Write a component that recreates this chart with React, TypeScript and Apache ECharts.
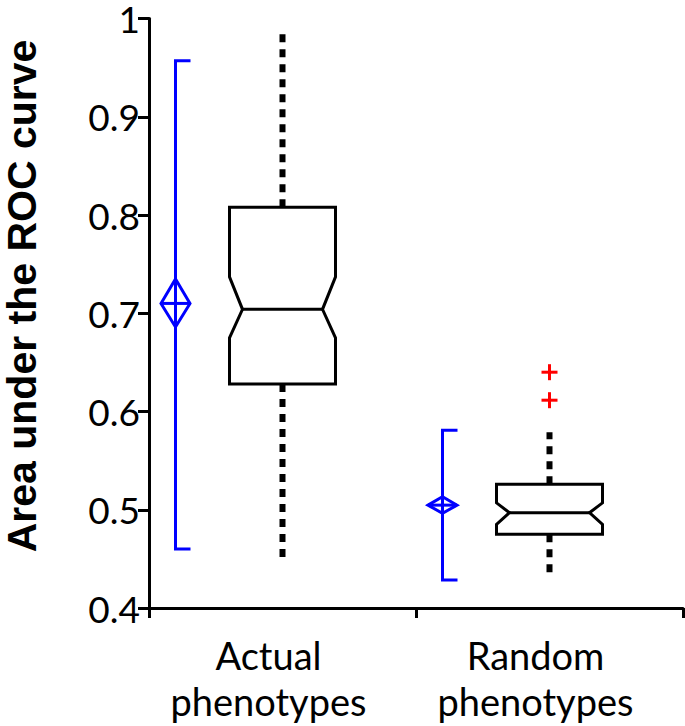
import React, { useEffect, useRef } from 'react';
import * as echarts from 'echarts';

// ---------- data ----------
const categories = ['Actual\nphenotypes', 'Random\nphenotypes'];
const yTicks = [0.4, 0.5, 0.6, 0.7, 0.8, 0.9, 1];

// notched box plot
const whiskerLow = [0.452, 0.430];
const q1 = [0.628, 0.475];
const notchLow = [0.675, 0.485];
const median = [0.704, 0.497];
const notchHigh = [0.737, 0.507];
const q3 = [0.808, 0.526];
const whiskerHigh = [0.988, 0.579];
const outlierCategory = [1, 1];
const outlierValue = [0.640, 0.6115];

// blue mean / range markers
const rangeLow = [0.460, 0.4285];
const meanCiLow = [0.686, 0.4963];
const meanValue = [0.710, 0.5047];
const meanCiHigh = [0.735, 0.5132];
const rangeHigh = [0.957, 0.581];

// ---------- layout (pixels) ----------
const BOX_W = 106;
const NOTCH = 13;
const BLUE_OFFSET = -107;
const CAP = 15;
const DIAMOND_HALF = 14.5;
const BLUE = '#0000ff';

export default function App() {
  const ref = useRef<HTMLDivElement>(null);
  useEffect(() => {
    const chart = echarts.init(ref.current!, null, { renderer: 'svg' });

    const boxData = categories.map((_, i) => [
      i, whiskerLow[i], q1[i], notchLow[i], median[i], notchHigh[i], q3[i], whiskerHigh[i],
    ]);
    const blueData = categories.map((_, i) => [
      i, rangeLow[i], meanCiLow[i], meanValue[i], meanCiHigh[i], rangeHigh[i],
    ]);
    const outlierData = outlierValue.map((v, i) => [outlierCategory[i], v]);

    const option: any = {
      animation: false,
      backgroundColor: '#ffffff',
      grid: { left: 149, right: 2, top: 18, bottom: 118, containLabel: false },
      xAxis: {
        type: 'category',
        data: categories,
        axisLine: { show: true, lineStyle: { color: '#000', width: 3 } },
        axisTick: { show: true, length: 10, lineStyle: { color: '#000', width: 3 } },
        axisLabel: {
          interval: 0,
          margin: 24,
          color: '#000',
          fontFamily: 'Lato',
          fontSize: 38,
          lineHeight: 46,
          padding: [0, 28, 0, 0],
        },
        splitLine: { show: false },
      },
      yAxis: {
        type: 'value',
        min: yTicks[0],
        max: yTicks[yTicks.length - 1],
        interval: 0.1,
        axisLine: { show: true, lineStyle: { color: '#000', width: 3 } },
        axisTick: { show: true, length: 11, lineStyle: { color: '#000', width: 3 } },
        axisLabel: {
          margin: 9,
          color: '#000',
          fontFamily: 'Lato',
          fontSize: 37,
          lineHeight: 30,
          formatter: (v: number) => String(Math.round(v * 10) / 10),
        },
        splitLine: { show: false },
      },
      graphic: [
        {
          type: 'text',
          x: 22,
          y: 296,
          rotation: Math.PI / 2,
          style: {
            text: 'Area under the ROC curve',
            fontFamily: 'Liberation Sans',
            fontWeight: 'bold',
            fontSize: 41,
            fill: '#000',
            textAlign: 'center',
            textVerticalAlign: 'middle',
          },
        },
      ],
      series: [
        {
          type: 'custom',
          name: 'box',
          data: boxData,
          encode: { x: 0, y: [1, 2, 3, 4, 5, 6, 7] },
          clip: false,
          renderItem: (params: any, api: any) => {
            const i = api.value(0);
            const c = (v: number) => api.coord([i, v]);
            const cx = c(api.value(4))[0];
            const yWL = c(api.value(1))[1];
            const yQ1 = c(api.value(2))[1];
            const yNL = c(api.value(3))[1];
            const yMed = c(api.value(4))[1];
            const yNH = c(api.value(5))[1];
            const yQ3 = c(api.value(6))[1];
            const yWH = c(api.value(7))[1];
            const L = cx - BOX_W / 2;
            const R = cx + BOX_W / 2;
            const dash = { stroke: '#000', lineWidth: 6, lineDash: [8, 7] };
            return {
              type: 'group',
              children: [
                { type: 'line', shape: { x1: cx, y1: yQ3, x2: cx, y2: yWH }, style: dash },
                { type: 'line', shape: { x1: cx, y1: yQ1, x2: cx, y2: yWL }, style: dash },
                {
                  type: 'polygon',
                  shape: {
                    points: [
                      [L, yQ3], [R, yQ3], [R, yNH], [R - NOTCH, yMed], [R, yNL],
                      [R, yQ1], [L, yQ1], [L, yNL], [L + NOTCH, yMed], [L, yNH],
                    ],
                  },
                  style: { fill: '#fff', stroke: '#000', lineWidth: 3, lineJoin: 'miter' },
                },
                {
                  type: 'line',
                  shape: { x1: L + NOTCH, y1: yMed, x2: R - NOTCH, y2: yMed },
                  style: { stroke: '#000', lineWidth: 3 },
                },
              ],
            };
          },
        },
        {
          type: 'custom',
          name: 'mean',
          data: blueData,
          encode: { x: 0, y: [1, 2, 3, 4, 5] },
          clip: false,
          renderItem: (params: any, api: any) => {
            const i = api.value(0);
            const c = (v: number) => api.coord([i, v]);
            const bx = c(api.value(3))[0] + BLUE_OFFSET;
            const yLow = c(api.value(1))[1];
            const yCL = c(api.value(2))[1];
            const yM = c(api.value(3))[1];
            const yCH = c(api.value(4))[1];
            const yHigh = c(api.value(5))[1];
            const st = { stroke: BLUE, lineWidth: 3, fill: 'none' };
            return {
              type: 'group',
              children: [
                { type: 'polyline', shape: { points: [[bx + CAP, yHigh], [bx, yHigh], [bx, yLow], [bx + CAP, yLow]] }, style: st },
                {
                  type: 'polygon',
                  shape: { points: [[bx - DIAMOND_HALF, yM], [bx, yCH], [bx + DIAMOND_HALF, yM], [bx, yCL]] },
                  style: st,
                },
                { type: 'line', shape: { x1: bx - DIAMOND_HALF, y1: yM, x2: bx + DIAMOND_HALF, y2: yM }, style: st },
              ],
            };
          },
        },
        {
          type: 'custom',
          name: 'outliers',
          data: outlierData,
          encode: { x: 0, y: 1 },
          clip: false,
          renderItem: (params: any, api: any) => {
            const p = api.coord([api.value(0), api.value(1)]);
            const s = 8;
            const st = { stroke: '#ff0000', lineWidth: 3 };
            return {
              type: 'group',
              children: [
                { type: 'line', shape: { x1: p[0] - s, y1: p[1], x2: p[0] + s, y2: p[1] }, style: st },
                { type: 'line', shape: { x1: p[0], y1: p[1] - s, x2: p[0], y2: p[1] + s }, style: st },
              ],
            };
          },
        },
      ],
    };

    chart.setOption(option);
    return () => chart.dispose();
  }, []);

  return (
    <div
      ref={ref}
      style={{ position: 'fixed', left: 0, top: 0, width: 685, height: 726 }}
    />
  );
}
